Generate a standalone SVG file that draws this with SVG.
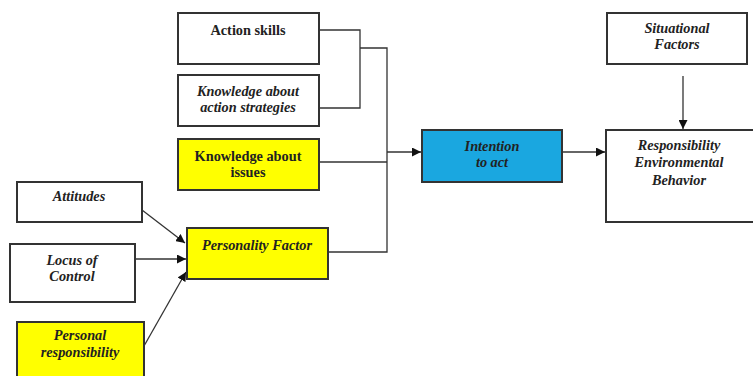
<svg xmlns="http://www.w3.org/2000/svg" width="753" height="376" viewBox="0 0 753 376">
<style>
.box{stroke:#333;stroke-width:2}
.w{fill:#fff}.y{fill:#ffff00}.b{fill:#1aa7e0}
text{font-family:"Liberation Serif","Times New Roman",serif;font-size:14.3px;font-weight:bold;fill:#222;text-anchor:middle}
.i{font-style:italic}
.c{fill:none;stroke:#333;stroke-width:1.3}
</style>
<defs>
<marker id="ah" viewBox="0 0 10 10" refX="10" refY="5" markerWidth="9" markerHeight="9" markerUnits="userSpaceOnUse" orient="auto">
<path d="M0,0L10,5L0,10z" fill="#111"/>
</marker>
</defs>
<rect width="753" height="376" fill="#fff"/>
<g id="connectors">
<polyline class="c" points="319,30 360,30 360,108 319,108"/>
<polyline class="c" points="360,48 387,48 387,252 328,252"/>
<line class="c" x1="319" y1="162" x2="387" y2="162"/>
<line class="c" x1="387" y1="152" x2="421" y2="152" marker-end="url(#ah)"/>
<line class="c" x1="562" y1="152" x2="605" y2="152" marker-end="url(#ah)"/>
<line class="c" x1="683" y1="76" x2="683" y2="129" marker-end="url(#ah)"/>
<line class="c" x1="142" y1="210" x2="185" y2="243" marker-end="url(#ah)"/>
<line class="c" x1="135" y1="259" x2="186" y2="259" marker-end="url(#ah)"/>
<line class="c" x1="144" y1="346" x2="186" y2="272" marker-end="url(#ah)"/>
</g>
<g id="action-skills"><rect class="box w" x="178" y="13" width="141" height="51"/><text x="248" y="35">Action skills</text></g>
<g id="knowledge-action"><rect class="box w" x="178" y="75" width="141" height="51"/><text class="i" x="248" y="96">Knowledge about</text><text class="i" x="248" y="112">action strategies</text></g>
<g id="knowledge-issues"><rect class="box y" x="178" y="139" width="141" height="51"/><text x="248" y="161">Knowledge about</text><text x="248" y="177">issues</text></g>
<g id="personality"><rect class="box y" x="187" y="228" width="141" height="51"/><text class="i" x="257" y="250">Personality Factor</text></g>
<g id="attitudes"><rect class="box w" x="17" y="182" width="125" height="40"/><text class="i" x="79" y="201">Attitudes</text></g>
<g id="locus"><rect class="box w" x="10" y="244" width="125" height="58"/><text class="i" x="72" y="265">Locus of</text><text class="i" x="72" y="281">Control</text></g>
<g id="personal"><rect class="box y" x="17" y="322" width="127" height="56"/><text class="i" x="80" y="340">Personal</text><text class="i" x="80" y="357">responsibility</text></g>
<g id="intention"><rect class="box b" x="422" y="130" width="140" height="52"/><text class="i" x="492" y="151">Intention</text><text class="i" x="492" y="167">to act</text></g>
<g id="situational"><rect class="box w" x="607" y="13" width="140" height="51"/><text class="i" x="677" y="33">Situational</text><text class="i" x="677" y="49">Factors</text></g>
<g id="behavior"><rect class="box w" x="606" y="130" width="150" height="92"/><text class="i" x="679" y="150">Responsibility</text><text class="i" x="679" y="167">Environmental</text><text class="i" x="679" y="185">Behavior</text></g>
</svg>
